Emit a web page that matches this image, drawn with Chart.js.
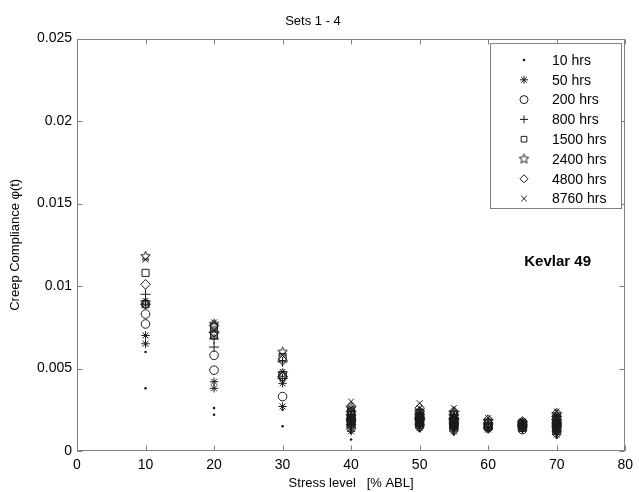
<!DOCTYPE html>
<html>
<head>
<meta charset="utf-8">
<script src="https://cdn.jsdelivr.net/npm/chart.js@4.4.1/dist/chart.umd.min.js"></script>
<style>
  html, body { margin: 0; padding: 0; background: #fff; }
  #wrap { width: 639px; height: 492px; }
</style>
</head>
<body>
<div id="wrap"><canvas id="chart" width="639" height="492"></canvas></div>
<script>
// ── Data ───────────────────────────────────────────────────────────
const stressLevels = [10, 20, 30, 40, 50, 55, 60, 65, 70];
const xTicks = [0, 10, 20, 30, 40, 50, 60, 70, 80];
const yTicks = [0, 0.005, 0.01, 0.015, 0.02, 0.025];
const seriesLabels = ['10 hrs', '50 hrs', '200 hrs', '800 hrs', '1500 hrs', '2400 hrs', '4800 hrs', '8760 hrs'];

// one entry per stress level, each a list of specimen values
const hrs10 = [
  [0.0038, 0.0060], [0.0022, 0.0026], [0.0015, 0.0025],
  [0.0007, 0.0011, 0.0013, 0.0015], [0.0012, 0.0014, 0.0015, 0.0016, 0.0017],
  [0.0010, 0.0012, 0.0014, 0.0015, 0.0016], [0.0012, 0.0013],
  [0.0012, 0.0013, 0.0014], [0.0008, 0.0010, 0.0012, 0.0013, 0.0014]
];
const hrs50 = [
  [0.0065, 0.0070], [0.0038, 0.0042], [0.0027, 0.0041],
  [0.0012, 0.0014, 0.0016, 0.0018], [0.0014, 0.0015, 0.0017, 0.0018, 0.0019],
  [0.0012, 0.0014, 0.0015, 0.0017, 0.0018], [0.0013, 0.0014],
  [0.0013, 0.0014, 0.0015], [0.0010, 0.0012, 0.0013, 0.0015, 0.0016]
];
const hrs200 = [
  [0.0077, 0.0083], [0.0049, 0.0058], [0.0033, 0.0045],
  [0.0014, 0.0016, 0.0018, 0.0020], [0.0015, 0.0016, 0.0018, 0.0019, 0.0020],
  [0.0013, 0.0015, 0.0016, 0.0018, 0.0019], [0.0014, 0.0015],
  [0.0013, 0.0015, 0.0016], [0.0011, 0.0013, 0.0015, 0.0016, 0.0018]
];
const hrs800 = [
  [0.0089, 0.0095], [0.0063, 0.0068], [0.0044, 0.0054],
  [0.0016, 0.0018, 0.0020, 0.0022], [0.0016, 0.0017, 0.0019, 0.0020, 0.0021],
  [0.0014, 0.0016, 0.0017, 0.0019, 0.0020], [0.0014, 0.0016],
  [0.0014, 0.0015, 0.0016], [0.0012, 0.0014, 0.0016, 0.0017, 0.0019]
];
const hrs1500 = [
  [0.0089, 0.0108], [0.0070, 0.0075], [0.0046, 0.0057],
  [0.0017, 0.0019, 0.0022, 0.0024], [0.0017, 0.0018, 0.0020, 0.0021, 0.0023],
  [0.0015, 0.0017, 0.0018, 0.0020, 0.0022], [0.0015, 0.0017],
  [0.0014, 0.0016, 0.0017], [0.0013, 0.0015, 0.0017, 0.0019, 0.0020]
];
const hrs2400 = [
  [0.0090, 0.0118], [0.0071, 0.0077], [0.0047, 0.0060],
  [0.0018, 0.0021, 0.0023, 0.0026], [0.0018, 0.0019, 0.0021, 0.0022, 0.0024],
  [0.0016, 0.0018, 0.0019, 0.0021, 0.0023], [0.0016, 0.0018],
  [0.0015, 0.0016, 0.0017], [0.0014, 0.0016, 0.0018, 0.0020, 0.0022]
];
const hrs4800 = [
  [0.0089, 0.0101], [0.0072, 0.0076], [0.0045, 0.0055],
  [0.0019, 0.0022, 0.0024, 0.0027], [0.0019, 0.0020, 0.0022, 0.0024, 0.0026],
  [0.0017, 0.0019, 0.0020, 0.0022, 0.0024], [0.0017, 0.0019],
  [0.0015, 0.0017, 0.0018], [0.0015, 0.0017, 0.0019, 0.0021, 0.0023]
];
const hrs8760 = [
  [0.0091, 0.0116], [0.0073, 0.0078], [0.0048, 0.0058],
  [0.0020, 0.0023, 0.0026, 0.0030], [0.0020, 0.0022, 0.0024, 0.0026, 0.0029],
  [0.0018, 0.0020, 0.0021, 0.0023, 0.0026], [0.0018, 0.0020],
  [0.0016, 0.0017, 0.0018], [0.0016, 0.0018, 0.0020, 0.0022, 0.0024]
];
const allSeries = [hrs10, hrs50, hrs200, hrs800, hrs1500, hrs2400, hrs4800, hrs8760];

// ── Markers ────────────────────────────────────────────────────────
const INK = '#1a1a1a';
const AXIS = '#808080';

function starImage(r) {
  const s = Math.ceil(r * 2 + 3);
  const c = document.createElement('canvas');
  c.width = c.height = s;
  const g = c.getContext('2d');
  g.translate(s / 2, s / 2);
  g.beginPath();
  for (let i = 0; i < 10; i++) {
    const rr = i % 2 ? r * 0.45 : r;
    const a = -Math.PI / 2 + i * Math.PI / 5;
    g.lineTo(rr * Math.cos(a), rr * Math.sin(a));
  }
  g.closePath();
  g.strokeStyle = INK; g.lineWidth = 1; g.stroke();
  return c;
}

const markers = [
  { style: 'circle',   radius: 1.3, fill: INK },
  { style: 'star',     radius: 4.2 },
  { style: 'circle',   radius: 4.3 },
  { style: 'cross',    radius: 5 },
  { style: 'rect',     radius: 5 },
  { style: starImage(5), radius: 5 },
  { style: 'rectRot',  radius: 4.8 },
  { style: 'crossRot', radius: 4 }
];

const datasets = allSeries.map((series, i) => ({
  label: seriesLabels[i],
  data: series.flatMap((vals, j) => vals.map(v => ({ x: stressLevels[j], y: v }))),
  pointStyle: markers[i].style,
  pointRadius: markers[i].radius,
  pointHoverRadius: markers[i].radius,
  backgroundColor: markers[i].fill || 'rgba(0,0,0,0)',
  borderColor: INK,
  borderWidth: markers[i].fill ? 0 : 1,
  showLine: false
}));

// ── Frame, inward ticks, legend, annotation ────────────────────────
const framePlugin = {
  id: 'frame',
  beforeDatasetsDraw(chart) {
    const { ctx, chartArea: a, scales: { x, y } } = chart;
    ctx.save();
    ctx.strokeStyle = AXIS; ctx.lineWidth = 1;
    const L = Math.round(a.left) + 0.5, R = Math.round(a.right) - 0.5;
    const T = Math.round(a.top) + 0.5, B = Math.round(a.bottom) - 0.5;
    ctx.strokeRect(L, T, R - L, B - T);
    ctx.beginPath();
    xTicks.forEach(v => {
      const px = Math.round(x.getPixelForValue(v)) + 0.5;
      ctx.moveTo(px, B); ctx.lineTo(px, B - 5);
      ctx.moveTo(px, T); ctx.lineTo(px, T + 5);
    });
    yTicks.forEach(v => {
      const py = Math.round(y.getPixelForValue(v)) + 0.5;
      ctx.moveTo(L, py); ctx.lineTo(L + 5, py);
      ctx.moveTo(R, py); ctx.lineTo(R - 5, py);
    });
    ctx.stroke();
    ctx.restore();
  },
  afterDraw(chart) {
    const { ctx } = chart;
    ctx.save();
    // legend box
    const bx = 490.5, by = 43.5, bw = 131, bh = 165;
    ctx.fillStyle = '#fff';
    ctx.fillRect(bx, by, bw, bh);
    ctx.strokeStyle = AXIS; ctx.lineWidth = 1;
    ctx.strokeRect(bx, by, bw, bh);
    ctx.font = '14px "Liberation Sans", Arial, sans-serif';
    ctx.textBaseline = 'middle';
    chart.data.datasets.forEach((ds, i) => {
      const cy = 60 + i * 19.8;
      ctx.fillStyle = ds.backgroundColor;
      ctx.strokeStyle = INK;
      ctx.lineWidth = ds.borderWidth;
      const r = i === 0 ? 1.3 : Math.min(ds.pointRadius, 4);
      Chart.helpers.drawPoint(ctx, { pointStyle: ds.pointStyle, radius: r, rotation: 0, borderWidth: ds.borderWidth }, 524, cy);
      ctx.fillStyle = '#000';
      ctx.fillText(ds.label, 552, cy + 1);
    });
    // material annotation
    ctx.font = 'bold 15px "Liberation Sans", Arial, sans-serif';
    ctx.fillStyle = '#000';
    ctx.textAlign = 'right';
    ctx.fillText('Kevlar 49', 591, 262);
    ctx.restore();
  }
};

// ── Chart ──────────────────────────────────────────────────────────
const FONT = '"Liberation Sans", Arial, sans-serif';

new Chart(document.getElementById('chart').getContext('2d'), {
  type: 'scatter',
  data: { datasets },
  options: {
    responsive: false,
    animation: false,
    layout: { padding: { top: 0, right: 13, left: 0, bottom: 0 } },
    plugins: {
      legend: { display: false },
      tooltip: { enabled: false },
      title: {
        display: true, text: 'Sets 1 - 4', color: '#000',
        font: { family: FONT, size: 13, weight: 'normal' },
        padding: { top: 14, bottom: 9 }
      }
    },
    scales: {
      x: {
        type: 'linear', min: 0, max: 80,
        afterBuildTicks: s => { s.ticks = xTicks.map(v => ({ value: v })); },
        afterFit: s => { s.height = 41; },
        grid: { display: false, drawTicks: false },
        border: { display: false },
        ticks: { color: '#000', font: { family: FONT, size: 14 }, padding: 6, maxRotation: 0 },
        title: {
          display: true, text: 'Stress level   [% ABL]', color: '#000',
          font: { family: FONT, size: 13 }, padding: { top: 0, bottom: 1 }
        }
      },
      y: {
        type: 'linear', min: 0, max: 0.025,
        afterBuildTicks: s => { s.ticks = yTicks.map(v => ({ value: v })); },
        afterFit: s => { s.width = 77; },
        grid: { display: false, drawTicks: false },
        border: { display: false },
        ticks: { color: '#000', font: { family: FONT, size: 14 }, padding: 5, callback: v => String(v) },
        title: {
          display: true, text: 'Creep Compliance φ(t)', color: '#000',
          font: { family: FONT, size: 13 }, padding: { top: 8, bottom: 4 }
        }
      }
    }
  },
  plugins: [framePlugin]
});
</script>
</body>
</html>
